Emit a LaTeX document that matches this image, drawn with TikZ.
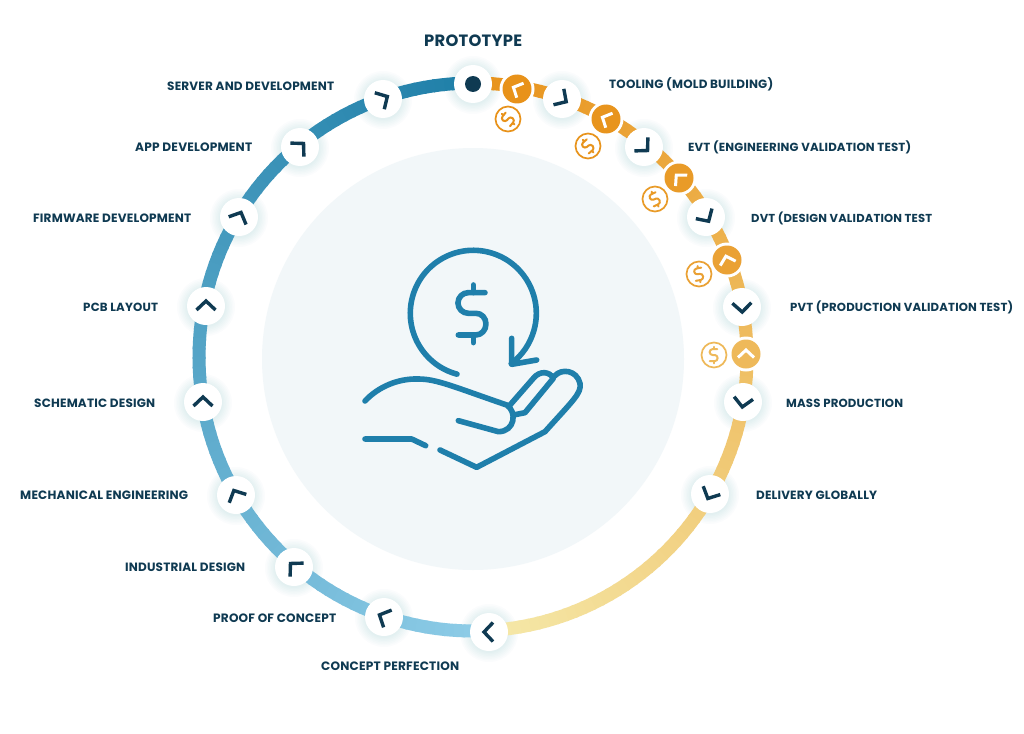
\documentclass[tikz,border=0pt]{standalone}
\usepackage{fontspec}
\usepackage{graphicx}
\setmainfont{Poppins}[LetterSpace=1.5]
\definecolor{ink}{HTML}{0F3A52}
\definecolor{iconblue}{HTML}{1F7FAB}
\definecolor{discbg}{HTML}{F2F7F9}
\definecolor{ringdark}{HTML}{1F7FA8}
\definecolor{ringlight}{HTML}{8FCDE8}
\definecolor{ringorange}{HTML}{E8921A}
\definecolor{ringpale}{HTML}{F5E8A8}
\tikzset{
  whitedot/.style={circle,fill=white,minimum size=38pt,inner sep=0pt},
  halodot/.style={circle,fill=white,minimum size=35pt,inner sep=0pt},
  chev/.style={line width=3.4pt,line cap=butt,miter limit=10},
  icon/.style={draw=iconblue,line width=5.6pt,line cap=round,line join=round},
  lab/.style={inner sep=0pt,text=ink,font=\bfseries},
}
% centre of the ring: (473,357)
\newcommand\softshadow[2]{%
  \foreach \r in {20,21.5,...,29}{\fill[iconblue,opacity=0.014] (#1,#2+1) circle[radius=\r];}%
}
\newcommand\stepnode[4]{% name x y direction
  \node[whitedot] (#1) at (#2,#3) {};%
  \draw[chev,ink,shift={(#1.center)},rotate=#4] (-4,-9.5) -- (5,0) -- (-4,9.5);%
}
\newcommand\costnode[5]{% name x y colour direction
  \node[halodot] at (#2,#3) {};%
  \node[circle,fill=#4,minimum size=29pt,inner sep=0pt] (#1) at (#2,#3) {};%
  \draw[chev,white,line width=3pt,shift={(#1.center)},rotate=#5] (-3.5,-8) -- (4,0) -- (-3.5,8);%
}
\newcommand\dollarglyph[1]{%
  \draw[#1] (35,-62) -- (-15,-62) .. controls (-32,-62) and (-46,-48) .. (-46,-31)
     .. controls (-46,-14) and (-32,0) .. (-15,0) -- (8,0)
     .. controls (25,0) and (38,14) .. (38,32) .. controls (38,50) and (25,65) .. (8,65) -- (-45,65);%
  \draw[#1] (0,-85) -- (0,-62);%
  \draw[#1] (0,65) -- (0,88);%
}
\newcommand\coin[5]{% name x y colour rotation
  \node[circle,draw=#4,fill=white,line width=1.7pt,minimum size=25pt,inner sep=0pt] (#1) at (#2,#3) {};%
  \begin{scope}[shift={(#1.center)},rotate=#5,scale=0.095]
    \dollarglyph{#4,line width=2pt,line cap=round,line join=round}
  \end{scope}%
}
\newcommand\fitlab[5]{% name left-x y width text
  \node[lab,anchor=west] (#1) at (#2,#3) {\resizebox{#4pt}{!}{#5}};%
}
\begin{document}
\begin{tikzpicture}[x=1pt,y=-1pt]
\useasboundingbox (0,0) rectangle (1024,733);
\fill[white] (0,0) rectangle (1024,733);
\node[circle,fill=discbg,minimum size=422pt,inner sep=0pt] (disc) at (473,359) {};

% soft shadows under the ring
\softshadow{473}{84}
\softshadow{383}{99}
\softshadow{300}{147}
\softshadow{239}{217}
\softshadow{206}{306}
\softshadow{203}{402}
\softshadow{236}{495}
\softshadow{294}{567}
\softshadow{384}{617}
\softshadow{489}{632}
\softshadow{710}{494}
\softshadow{743}{402}
\softshadow{742}{307}
\softshadow{706}{217}
\softshadow{644}{147}
\softshadow{562}{99}

% ring
\begin{scope}[shift={(473,357)},y=1pt]
  \foreach \a in {90,92,...,272}{%
    \pgfmathsetmacro\p{(\a-90)/183*100}%
    \colorlet{segc}{ringlight!\p!ringdark}%
    \draw[segc,line width=13pt] (\a:274) arc[start angle=\a,end angle=\a+2.4,radius=274];%
  }
  \foreach \a in {90,88,...,-84}{%
    \pgfmathsetmacro\p{(90-\a)/174*100}%
    \colorlet{segc}{ringpale!\p!ringorange}%
    \draw[segc,line width=13pt] (\a:274) arc[start angle=\a,end angle=\a-2.4,radius=274];%
  }
\end{scope}

% prototype node
\node[whitedot] (proto) at (473,84) {};
\node[circle,fill=ink,minimum size=16pt,inner sep=0pt] (protodot) at (proto.center) {};

% cost nodes on the ring
\costnode{c1}{517}{89}{ringorange}{155}
\costnode{c2}{606}{119}{ringorange!98!ringpale}{155}
\costnode{c3}{679}{178}{ringorange!90!ringpale}{133}
\costnode{c4}{727}{260}{ringorange!82!ringpale}{106}
\costnode{c5}{746}{354}{ringorange!55!ringpale}{90}

% steps
\stepnode{n1}{383}{99}{30}
\stepnode{n2}{300}{147}{45}
\stepnode{n3}{239}{217}{66}
\stepnode{n4}{206}{306}{90}
\stepnode{n5}{203}{402}{90}
\stepnode{n6}{236}{495}{116}
\stepnode{n7}{294}{567}{135}
\stepnode{n8}{384}{617}{155}
\stepnode{n9}{489}{632}{180}
\stepnode{n10}{710}{494}{-116}
\stepnode{n11}{743}{402}{-98}
\stepnode{n12}{742}{307}{-88}
\stepnode{n13}{706}{217}{-58}
\stepnode{n14}{644}{147}{-45}
\stepnode{n15}{562}{99}{-33}

% coins
\coin{d1}{508}{119}{ringorange}{50}
\coin{d2}{588}{146}{ringorange!98!ringpale}{40}
\coin{d3}{655}{199}{ringorange!90!ringpale}{25}
\coin{d4}{699}{274}{ringorange!82!ringpale}{10}
\coin{d5}{714}{355}{ringorange!55!ringpale}{0}

% labels
\fitlab{lp}{424}{41}{98}{PROTOTYPE}
\fitlab{l1}{167}{86}{167}{SERVER AND DEVELOPMENT}
\fitlab{l2}{135}{147}{117}{APP DEVELOPMENT}
\fitlab{l3}{33}{218}{158}{FIRMWARE DEVELOPMENT}
\fitlab{l4}{83}{307}{75}{PCB LAYOUT}
\fitlab{l5}{34}{403}{121}{SCHEMATIC DESIGN}
\fitlab{l6}{20}{495}{168}{MECHANICAL ENGINEERING}
\fitlab{l7}{125}{567}{120}{INDUSTRIAL DESIGN}
\fitlab{l8}{213}{618}{123}{PROOF OF CONCEPT}
\fitlab{l9}{321}{666}{138}{CONCEPT PERFECTION}
\fitlab{l10}{756}{495}{121}{DELIVERY GLOBALLY}
\fitlab{l11}{786}{403}{117}{MASS PRODUCTION}
\fitlab{l12}{790}{307}{223}{PVT (PRODUCTION VALIDATION TEST)}
\fitlab{l13}{751}{218}{181}{DVT (DESIGN VALIDATION TEST}
\fitlab{l14}{688}{147}{223}{EVT (ENGINEERING VALIDATION TEST)}
\fitlab{l15}{609}{84}{164}{TOOLING (MOLD BUILDING)}

% central icon
\begin{scope}[shift={(340,230)},x=0.33333pt,y=-0.33333pt]
  \draw[icon] (75,513) .. controls (115,470) and (175,445) .. (235,447)
     .. controls (290,447) and (340,470) .. (500,525)
     .. controls (532,545) and (525,605) .. (475,605) -- (355,572);
  \draw[icon] (510,525) -- (580,445) .. controls (600,420) and (630,425) .. (640,445)
     -- (555,548) -- (520,555);
  \draw[icon] (645,437) .. controls (665,415) and (710,420) .. (720,460)
     .. controls (725,490) and (700,510) .. (615,605) -- (410,712) -- (300,660);
  \draw[icon] (75,627) -- (215,627) -- (257,647);
  \draw[icon] (515,325) -- (515,403) -- (590,390);
\end{scope}
\begin{scope}[shift={(473.3,313.3)},y=1pt]
  \draw[icon] (255:63) arc[start angle=255,end angle=-53,radius=63];
\end{scope}
\begin{scope}[shift={(473.3,313.3)},x=0.33333pt,y=-0.33333pt]
  \dollarglyph{icon}
\end{scope}
\end{tikzpicture}
\end{document}
